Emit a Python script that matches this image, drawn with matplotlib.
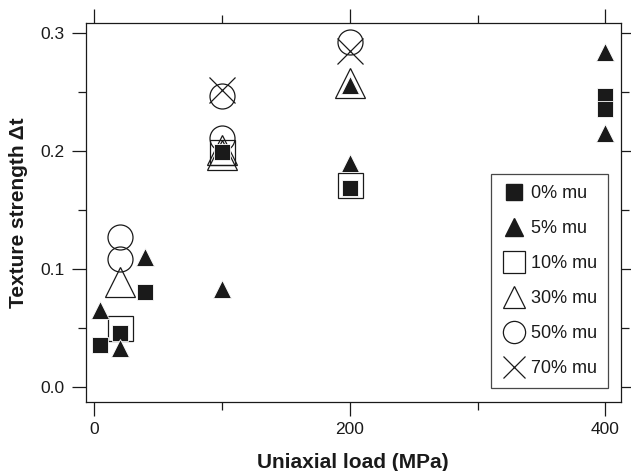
import matplotlib
matplotlib.use("Agg")
import matplotlib.pyplot as plt
from matplotlib.lines import Line2D
from matplotlib.ticker import MultipleLocator

plt.rcParams['font.family'] = ['Liberation Sans', 'DejaVu Sans']

# ---- data ----
labels = ["0% mu", "5% mu", "10% mu", "30% mu", "50% mu", "70% mu"]

x_mu0 = [5, 20, 40, 100, 200, 400, 400]
y_mu0 = [0.035, 0.046, 0.080, 0.199, 0.169, 0.247, 0.236]

x_mu5 = [5, 20, 40, 100, 200, 200, 400, 400]
y_mu5 = [0.065, 0.033, 0.110, 0.083, 0.190, 0.256, 0.284, 0.215]

x_mu10 = [20, 100, 200]
y_mu10 = [0.050, 0.199, 0.171]

x_mu30 = [20, 100, 100, 200]
y_mu30 = [0.089, 0.201, 0.197, 0.258]

x_mu50 = [20, 20, 100, 100, 200]
y_mu50 = [0.127, 0.108, 0.211, 0.247, 0.293]

x_mu70 = [100, 200]
y_mu70 = [0.252, 0.285]

xticks = [0, 200, 400]
yticks = [0.0, 0.1, 0.2, 0.3]

ink = '#1a1a1a'

fig = plt.figure(figsize=(6.31, 4.71), dpi=100)
ax = fig.add_axes([0.1355, 0.1475, 0.984 - 0.1355, 0.951 - 0.1475])

open_kw = dict(linestyle='none', markerfacecolor='none', markeredgecolor=ink, markeredgewidth=0.9)
ax.plot(x_mu10, y_mu10, marker='s', markersize=18, **open_kw)
ax.plot(x_mu30, y_mu30, marker='^', markersize=21, **open_kw)
ax.plot(x_mu50, y_mu50, marker='o', markersize=18, **open_kw)
ax.plot(x_mu70, y_mu70, marker='x', markersize=19, linestyle='none', color=ink, markeredgewidth=0.9)
ax.plot(x_mu0, y_mu0, marker='s', markersize=11, linestyle='none', markerfacecolor=ink,
        markeredgecolor='white', markeredgewidth=0.6)
ax.plot(x_mu5, y_mu5, marker='^', markersize=13, linestyle='none', markerfacecolor=ink,
        markeredgecolor='white', markeredgewidth=0.6)

ax.set_xlim(-6.65, 412.1)
ax.set_ylim(-0.0126, 0.3087)
ax.set_xticks(xticks)
ax.set_yticks(yticks)
ax.set_yticklabels(["%.1f" % v for v in yticks])
ax.xaxis.set_minor_locator(MultipleLocator(100))
ax.yaxis.set_minor_locator(MultipleLocator(0.05))

ax.tick_params(which='both', direction='out', top=True, right=True, width=0.9, color=ink,
               labelsize=12.5, labelcolor=ink, pad=5)
ax.tick_params(which='major', length=10)
ax.tick_params(which='minor', length=5.5)
for s in ax.spines.values():
    s.set_linewidth(0.9)
    s.set_color(ink)

ax.set_xlabel("Uniaxial load (MPa)", fontsize=15, fontweight='bold', color=ink, labelpad=11)
ax.set_ylabel("Texture strength Δt", fontsize=15, fontweight='bold', color=ink, labelpad=9)

handles = [
    Line2D([], [], marker='s', markersize=12, linestyle='none', color=ink),
    Line2D([], [], marker='^', markersize=13, linestyle='none', color=ink),
    Line2D([], [], marker='s', markersize=16, linestyle='none', markerfacecolor='none', markeredgecolor=ink, markeredgewidth=0.9),
    Line2D([], [], marker='^', markersize=16, linestyle='none', markerfacecolor='none', markeredgecolor=ink, markeredgewidth=0.9),
    Line2D([], [], marker='o', markersize=16, linestyle='none', markerfacecolor='none', markeredgecolor=ink, markeredgewidth=0.9),
    Line2D([], [], marker='x', markersize=16, linestyle='none', color=ink, markeredgewidth=0.9),
]
leg = ax.legend(handles, labels, loc='lower right', bbox_to_anchor=(0.9757, 0.0357),
                borderaxespad=0, fontsize=13, frameon=True, fancybox=False,
                handlelength=1.3, handletextpad=0.3, labelspacing=1.0, borderpad=0.6)
leg.get_frame().set_edgecolor(ink)
leg.get_frame().set_linewidth(0.9)
for t in leg.get_texts():
    t.set_color(ink)

fig.savefig("out.png", dpi=100)
